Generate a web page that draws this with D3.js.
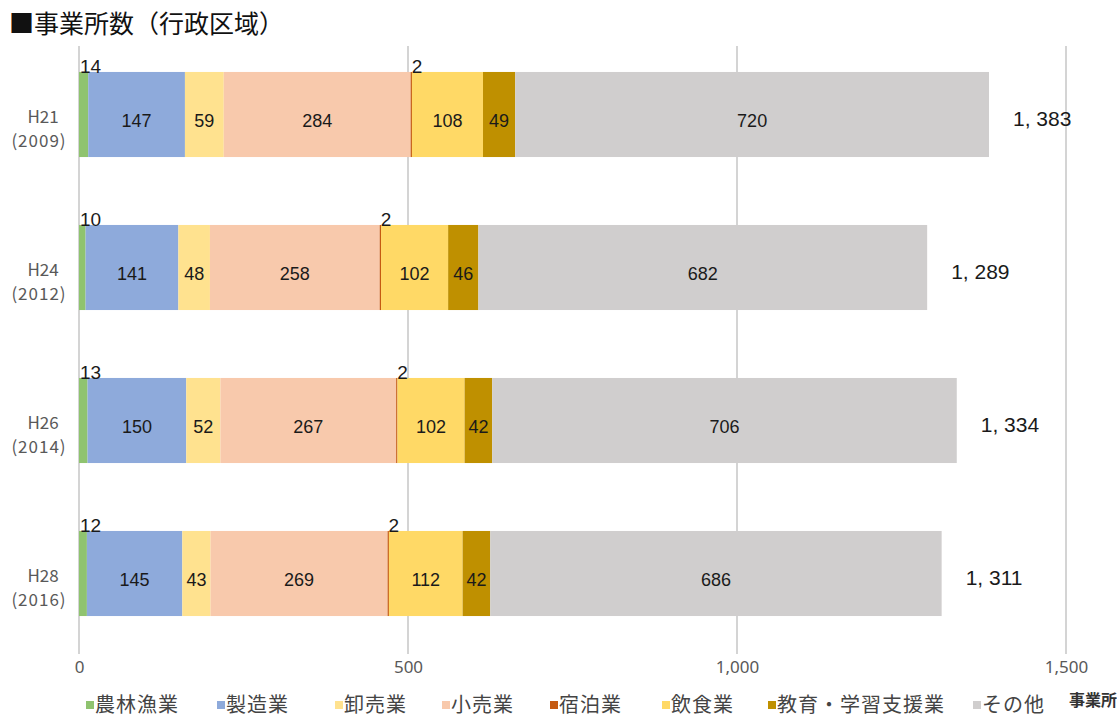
<!DOCTYPE html>
<html>
<head>
<meta charset="utf-8">
<script src="https://cdn.jsdelivr.net/npm/d3@7"></script>
<style>
  html, body { margin: 0; padding: 0; background: #fff; }
  svg { display: block; font-family: "Noto Sans CJK JP", "Noto Sans", sans-serif; }
  .num { font-family: "Liberation Sans Narrow", "Liberation Sans", "Noto Sans", sans-serif; }
</style>
</head>
<body>
<svg id="chart" width="1117" height="717"></svg>
<script>
// Survey years (two-line labels: era year / western year)
const years = ["H21", "H24", "H26", "H28"];
const westernYears = ["(2009)", "(2012)", "(2014)", "(2016)"];

// Industry categories in stacking order
const industries = ["農林漁業", "製造業", "卸売業", "小売業", "宿泊業", "飲食業", "教育・学習支援業", "その他"];
const colors = ["#8fc36f", "#8eaadb", "#ffe28f", "#f8c9ac", "#c55a11", "#ffd966", "#bf9000", "#d0cece"];

// Establishment counts per industry, one entry per year
const agriculture = [14, 10, 13, 12];
const manufacturing = [147, 141, 150, 145];
const wholesale = [59, 48, 52, 43];
const retail = [284, 258, 267, 269];
const lodging = [2, 2, 2, 2];
const restaurants = [108, 102, 102, 112];
const education = [49, 46, 42, 42];
const other = [720, 682, 706, 686];

// Totals shown to the right of each bar
const totals = [1383, 1289, 1334, 1311];

const xTicks = [0, 500, 1000, 1500];

const seriesValues = [agriculture, manufacturing, wholesale, retail, lodging, restaurants, education, other];

// Build one row per year for the stack generator
const rows = years.map((y, i) => {
  const r = { year: y };
  industries.forEach((k, j) => { r[k] = seriesValues[j][i]; });
  return r;
});

const svg = d3.select("#chart");

const x = d3.scaleLinear().domain([0, 1500]).range([79, 1066]);
const y = d3.scaleBand().domain(years).range([38, 650]).paddingInner(0.444).paddingOuter(0.222);

// Title
svg.append("text")
  .attr("x", 9).attr("y", 33)
  .attr("font-size", 25).attr("fill", "#111")
  .text("■事業所数（行政区域）");

// Vertical gridlines
svg.append("g").selectAll("line")
  .data(xTicks)
  .join("line")
  .attr("x1", d => x(d)).attr("x2", d => x(d))
  .attr("y1", 46).attr("y2", 654)
  .attr("stroke", "#d4d4d4").attr("stroke-width", 2);

// X axis tick labels
const xAxis = d3.axisBottom(x).tickValues(xTicks).tickSize(0).tickPadding(0)
  .tickFormat(d3.format(","));
const gx = svg.append("g").attr("transform", "translate(0,661)").call(xAxis);
gx.select(".domain").remove();
gx.selectAll("text")
  .attr("font-size", 17).attr("fill", "#595959")
  .attr("font-family", "'Noto Sans', sans-serif");

// Stacked bars
const stack = d3.stack().keys(industries);
const layers = stack(rows);

const gBars = svg.append("g");
layers.forEach((layer, li) => {
  gBars.append("g").attr("fill", colors[li])
    .selectAll("rect")
    .data(layer)
    .join("rect")
    .attr("x", d => x(d[0]))
    .attr("y", d => y(d.data.year))
    .attr("width", d => x(d[1]) - x(d[0]))
    .attr("height", y.bandwidth());
});

// Segment value labels: inside for wide segments, above the bar start for narrow ones
const gLabels = svg.append("g").attr("class", "num").attr("fill", "#1a1a1a");
layers.forEach((layer, li) => {
  layer.forEach(d => {
    const v = d[1] - d[0];
    const w = x(d[1]) - x(d[0]);
    if (w < 14) {
      gLabels.append("text")
        .attr("x", x(d[0]) + 1)
        .attr("y", y(d.data.year) + 1)
        .attr("font-size", 19)
        .attr("text-anchor", "start")
        .text(v);
    } else {
      gLabels.append("text")
        .attr("x", (x(d[0]) + x(d[1])) / 2)
        .attr("y", y(d.data.year) + y.bandwidth() / 2 + 12)
        .attr("font-size", 18)
        .attr("text-anchor", "middle")
        .text(v);
    }
  });
});

// Totals to the right of each bar
svg.append("g").attr("class", "num").selectAll("text")
  .data(totals)
  .join("text")
  .attr("x", d => x(d) + 24)
  .attr("y", (d, i) => y(years[i]) + y.bandwidth() / 2 + 11)
  .attr("font-size", 21).attr("fill", "#1a1a1a")
  .text(d => d3.format(",")(d).replace(",", ", "));

// Year labels on the left
const gy = svg.append("g").attr("fill", "#595959").attr("text-anchor", "middle");
years.forEach((yr, i) => {
  const cy = y(yr) + y.bandwidth() / 2;
  gy.append("text")
    .attr("x", 43).attr("y", cy + 8)
    .attr("font-size", 17)
    .text(yr);
  gy.append("text")
    .attr("x", 39).attr("y", cy + 32)
    .attr("font-size", 17).attr("letter-spacing", 1)
    .text(westernYears[i]);
});

// Unit label
svg.append("text")
  .attr("x", 1117).attr("y", 706)
  .attr("text-anchor", "end")
  .attr("font-size", 16).attr("font-weight", "bold").attr("fill", "#333")
  .text("事業所");

// Legend
const legendX = [86, 217, 335, 442, 550, 662, 768, 973];
const gLeg = svg.append("g");
industries.forEach((name, i) => {
  gLeg.append("rect")
    .attr("x", legendX[i]).attr("y", 701)
    .attr("width", 8).attr("height", 8)
    .attr("fill", colors[i]);
  gLeg.append("text")
    .attr("x", legendX[i] + 9).attr("y", 712)
    .attr("font-size", 20).attr("letter-spacing", 1).attr("fill", "#444")
    .text(name);
});
</script>
</body>
</html>
